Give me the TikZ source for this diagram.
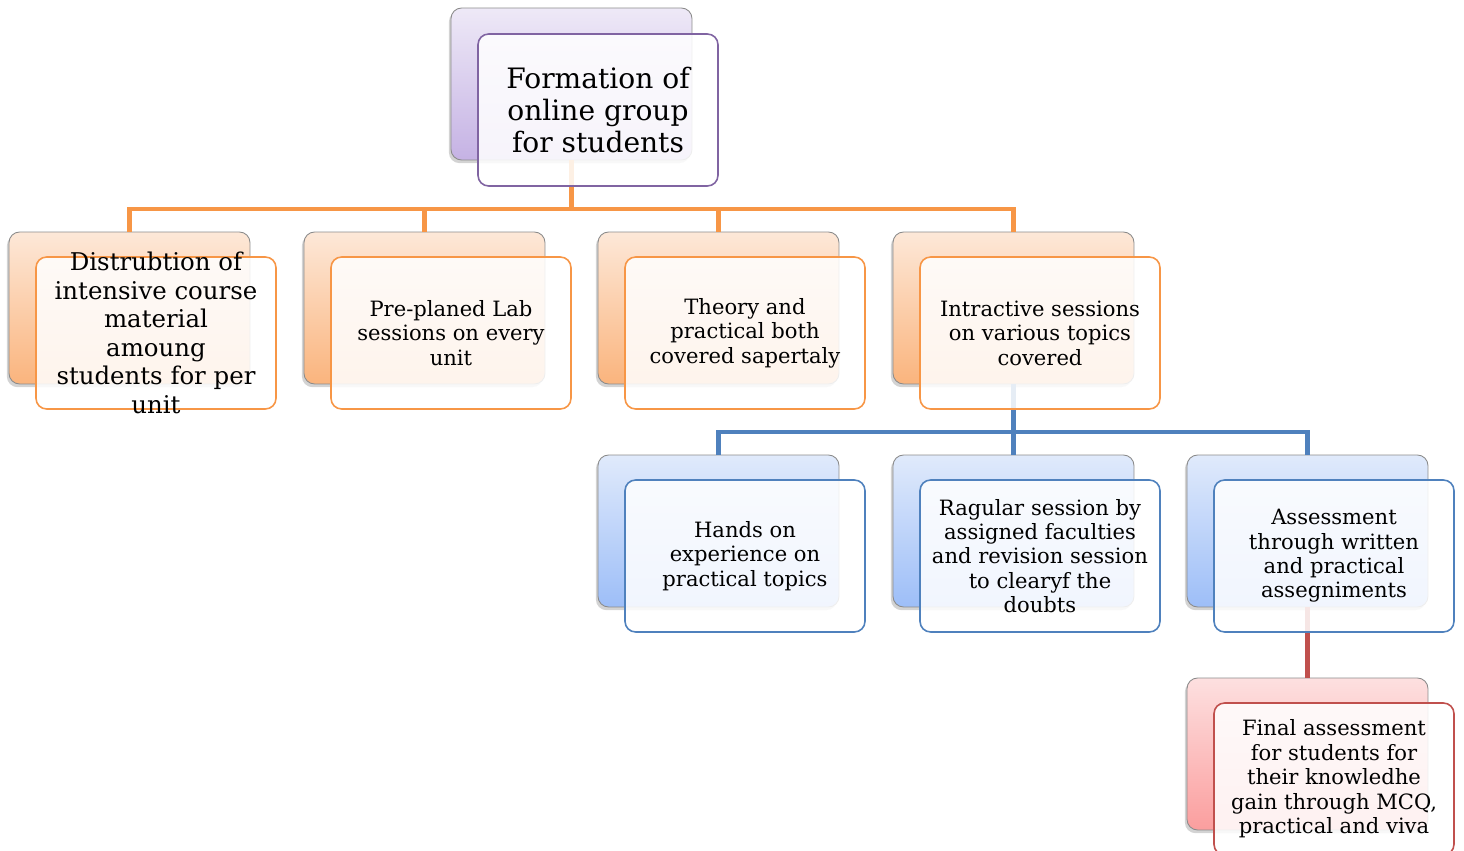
\documentclass[tikz,border=0pt]{standalone}
\usepackage{fontspec}
\setmainfont{DejaVu Serif}
\usetikzlibrary{shadows}

\begin{document}
\begin{tikzpicture}[x=0.02cm,y=-0.02cm]

% Colours
\definecolor{colPur}{HTML}{8064A2}
\definecolor{colPurTop}{HTML}{EEE9F7}
\definecolor{colPurBot}{HTML}{C5B2E4}
\definecolor{colOra}{HTML}{F79646}
\definecolor{colOraTop}{HTML}{FDE8D8}
\definecolor{colOraBot}{HTML}{FAB47D}
\definecolor{colBlu}{HTML}{4F81BD}
\definecolor{colBluTop}{HTML}{E0EAFB}
\definecolor{colBluBot}{HTML}{9DBEF8}
\definecolor{colRed}{HTML}{C0504D}
\definecolor{colRedTop}{HTML}{FDE0E0}
\definecolor{colRedBot}{HTML}{FB9E9E}

\tikzset{
  backbox/.style={rectangle, rounded corners=6pt, minimum width=4.82cm,
    minimum height=3.04cm, draw=black!45, line width=0.5pt,
    drop shadow={shadow xshift=-1.2pt, shadow yshift=-1.8pt, opacity=0.35}},
  frontbox/.style={rectangle, rounded corners=6pt, minimum width=4.8cm,
    minimum height=3.04cm, fill=white, fill opacity=0.86, text opacity=1,
    line width=0.9pt, align=center, inner sep=1pt,
    font=\fontsize{12}{13.9}\selectfont},
  purback/.style={backbox, top color=colPurTop, bottom color=colPurBot},
  oraback/.style={backbox, top color=colOraTop, bottom color=colOraBot},
  bluback/.style={backbox, top color=colBluTop, bottom color=colBluBot},
  redback/.style={backbox, top color=colRedTop, bottom color=colRedBot},
  link/.style={line width=2.3pt}
}

% Frame of the page
\useasboundingbox (0,0) rectangle (1464,851);

% Back boxes
\node[purback] (rootB) at (571.5,84) {};
\node[oraback] (distB) at (129.5,308) {};
\node[oraback] (labB) at (424.5,308) {};
\node[oraback] (theoB) at (718.5,308) {};
\node[oraback] (intrB) at (1013.5,308) {};
\node[bluback] (handB) at (718.5,531) {};
\node[bluback] (ragB) at (1013.5,531) {};
\node[bluback] (assB) at (1307.5,531) {};
\node[redback] (finB) at (1307.5,754) {};

% Connectors
\draw[link, colOra] (rootB.south) -- ++(0,49) -| (distB.north);
\draw[link, colOra] (rootB.south) -- ++(0,49) -| (labB.north);
\draw[link, colOra] (rootB.south) -- ++(0,49) -| (theoB.north);
\draw[link, colOra] (rootB.south) -- ++(0,49) -| (intrB.north);
\draw[link, colBlu] (intrB.south) -- ++(0,48) -| (handB.north);
\draw[link, colBlu] (intrB.south) -- ++(0,48) -| (ragB.north);
\draw[link, colBlu] (intrB.south) -- ++(0,48) -| (assB.north);
\draw[link, colRed] (assB.south) -- (finB.north);

% Front boxes
\node[frontbox, draw=colPur, font=\fontsize{16}{18.1}\selectfont] (rootF)
  at ([shift={(26.5,26)}]rootB) {Formation of\\online group\\for students};
\node[frontbox, draw=colOra, inner ysep=-12pt, font=\fontsize{13.9}{16.2}\selectfont] (distF)
  at ([shift={(26.5,25)}]distB) {Distrubtion of\\intensive course\\material\\amoung\\students for per\\unit};
\node[frontbox, draw=colOra] (labF)
  at ([shift={(26.5,25)}]labB) {Pre-planed Lab\\sessions on every\\unit};
\node[frontbox, draw=colOra] (theoF)
  at ([shift={(26.5,25)}]theoB) {Theory and\\practical both\\covered sapertaly};
\node[frontbox, draw=colOra] (intrF)
  at ([shift={(26.5,25)}]intrB) {Intractive sessions\\on various topics\\covered};
\node[frontbox, draw=colBlu] (handF)
  at ([shift={(26.5,25)}]handB) {Hands on\\experience on\\practical topics};
\node[frontbox, draw=colBlu] (ragF)
  at ([shift={(26.5,25)}]ragB) {Ragular session by\\assigned faculties\\and revision session\\to clearyf the\\doubts};
\node[frontbox, draw=colBlu] (assF)
  at ([shift={(26.5,25)}]assB) {Assessment\\through written\\and practical\\assegniments};
\node[frontbox, draw=colRed] (finF)
  at ([shift={(26.5,25)}]finB) {Final assessment\\for students for\\their knowledhe\\gain through MCQ,\\practical and viva};

\end{tikzpicture}
\end{document}
